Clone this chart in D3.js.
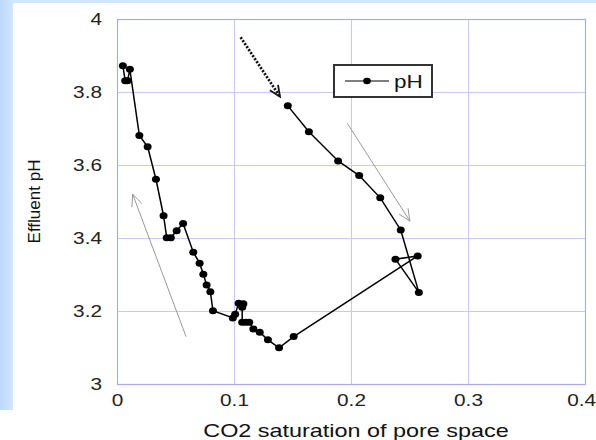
<!DOCTYPE html>
<html>
<head>
	<title>Effluent pH vs CO2 saturation</title>
</head>
<body>

<svg class="chart"></svg>

<style type="text/css">
	body {
		margin: 0;
		background: #fff;
	}

	.chart {
		display: block;
		width: 596px;
		height: 440px;
		font-family: "Liberation Sans", Arial, sans-serif;
	}

	.chart .grid line {
		stroke: #c9c9f6;
		stroke-width: 1px;
	}

	.chart .tick text {
		fill: #222;
		font-size: 16px;
	}

	.chart .title {
		fill: #111;
		font-size: 18px;
	}
</style>

<script src="https://d3js.org/d3.v7.min.js"></script>
<script type="text/javascript">
	// series, in the order it was measured (dotted arrow marks the start)
	var saturation = [0.146, 0.164, 0.189, 0.207, 0.225, 0.2425, 0.258, 0.238, 0.257,
		0.151, 0.1385, 0.129, 0.122, 0.1165, 0.113, 0.110, 0.107, 0.107, 0.108, 0.104,
		0.101, 0.099, 0.082, 0.0798, 0.0766, 0.0738, 0.0706, 0.0652, 0.0565, 0.051,
		0.046, 0.0425, 0.0398, 0.0333, 0.0262, 0.0191, 0.011, 0.009, 0.007, 0.005]
	var pH = [3.762, 3.691, 3.611, 3.571, 3.510, 3.422, 3.251, 3.342, 3.351,
		3.130, 3.099, 3.121, 3.142, 3.151, 3.169, 3.169, 3.169, 3.210, 3.220, 3.221,
		3.191, 3.181, 3.201, 3.253, 3.271, 3.301, 3.331, 3.361, 3.440, 3.420,
		3.401, 3.401, 3.461, 3.561, 3.650, 3.681, 3.862, 3.831, 3.831, 3.872]

	var xTicks = [0, 0.1, 0.2, 0.3, 0.4]
	var yTicks = [3, 3.2, 3.4, 3.6, 3.8, 4]

	var seriesName = 'pH'
	var xTitle = 'CO2 saturation of pore space'
	var yTitle = 'Effluent pH'

	// direction arrows [x1, y1, x2, y2] in data units
	var startArrow = [0.1057, 3.950, 0.1393, 3.787]
	var trendArrows = [
		[0.1969, 3.714, 0.2504, 3.446],
		[0.059, 3.130, 0.0134, 3.520]
	]

	var width = 596
	var height = 440
	var margin = {top: 19, right: 11, bottom: 56, left: 117}
	var stretch = 'scale(1.3,1)'   // the original picture is a bit wider than tall

	var svg = d3.select('.chart')
		.attr('viewBox', [0, 0, width, height])

	// light blue frame
	var grad = svg.append('defs').append('linearGradient')
		.attr('id', 'edge')
		.attr('x1', 0).attr('x2', 1).attr('y1', 0).attr('y2', 0)
	grad.append('stop').attr('offset', 0).attr('stop-color', '#bcd9fb')
	grad.append('stop').attr('offset', 1).attr('stop-color', '#d3e6fc')

	svg.append('rect')
		.attr('x', 0).attr('y', 0).attr('width', width).attr('height', 3)
		.attr('fill', '#d3e6fc')
	svg.append('rect')
		.attr('x', 0).attr('y', 0).attr('width', 13).attr('height', 410)
		.attr('fill', 'url(#edge)')

	var x = d3.scaleLinear()
		.domain([0, 0.4])
		.range([margin.left, width - margin.right])

	var y = d3.scaleLinear()
		.domain([3, 4])
		.range([height - margin.bottom, margin.top])

	// grid
	var grid = svg.append('g').attr('class', 'grid')
	grid.selectAll('.gx')
		.data(xTicks)
		.enter()
		.append('line')
		.attr('x1', function(d) { return x(d) + 0.5 })
		.attr('x2', function(d) { return x(d) + 0.5 })
		.attr('y1', y(3))
		.attr('y2', y(4))
	grid.selectAll('.gy')
		.data(yTicks)
		.enter()
		.append('line')
		.attr('y1', function(d) { return Math.round(y(d)) + 0.5 })
		.attr('y2', function(d) { return Math.round(y(d)) + 0.5 })
		.attr('x1', x(0))
		.attr('x2', x(0.4))

	svg.append('rect')
		.attr('x', x(0) + 0.5)
		.attr('y', y(4) + 0.5)
		.attr('width', x(0.4) - x(0))
		.attr('height', y(3) - y(4))
		.attr('fill', 'none')
		.attr('stroke', '#aaaaf0')
		.attr('stroke-width', 1.2)

	// axes (labels only)
	var xAxis = svg.append('g')
		.attr('transform', 'translate(0,' + (y(3) + 8) + ')')
		.call(d3.axisBottom(x).tickValues(xTicks).tickSize(0).tickFormat(d3.format('')))
	xAxis.select('.domain').remove()
	xAxis.selectAll('text').attr('dy', '0.71em').attr('transform', stretch)
	// last label sits against the right edge of the picture
	xAxis.selectAll('text').filter(function(d) { return d === 0.4 }).attr('x', -3)

	var yAxis = svg.append('g')
		.attr('transform', 'translate(' + (x(0) - 15) + ',0)')
		.call(d3.axisLeft(y).tickValues(yTicks).tickSize(0).tickFormat(d3.format('')))
	yAxis.select('.domain').remove()
	yAxis.selectAll('text').attr('x', 0).attr('transform', stretch)

	svg.append('g')
		.attr('transform', 'translate(' + ((x(0) + x(0.4)) / 2 + 5) + ',437)')
		.append('text')
		.attr('class', 'title')
		.attr('text-anchor', 'middle')
		.attr('transform', stretch)
		.text(xTitle)

	svg.append('text')
		.attr('class', 'title')
		.attr('transform', 'translate(40,' + ((y(3) + y(4)) / 2) + ') rotate(-90)')
		.attr('text-anchor', 'middle')
		.style('font-size', '17px')
		.text(yTitle)

	// arrows
	function arrowHead(a, size, color, w) {
		var x1 = x(a[0]), y1 = y(a[1]), x2 = x(a[2]), y2 = y(a[3])
		var ang = Math.atan2(y2 - y1, x2 - x1)
		var spread = 0.42
		var p1 = [x2 - size * Math.cos(ang - spread), y2 - size * Math.sin(ang - spread)]
		var p2 = [x2 - size * Math.cos(ang + spread), y2 - size * Math.sin(ang + spread)]
		svg.append('path')
			.attr('d', 'M' + p1 + 'L' + [x2, y2] + 'L' + p2)
			.attr('fill', 'none')
			.attr('stroke', color)
			.attr('stroke-width', w)
	}

	trendArrows.forEach(function(a) {
		svg.append('line')
			.attr('x1', x(a[0])).attr('y1', y(a[1]))
			.attr('x2', x(a[2])).attr('y2', y(a[3]))
			.attr('stroke', '#9a9a9a')
			.attr('stroke-width', 1)
		arrowHead(a, 13, '#9a9a9a', 1)
	})

	svg.append('line')
		.attr('x1', x(startArrow[0])).attr('y1', y(startArrow[1]))
		.attr('x2', x(startArrow[2])).attr('y2', y(startArrow[3]))
		.attr('stroke', '#111')
		.attr('stroke-width', 2.8)
		.attr('stroke-dasharray', '2,1.6')
	arrowHead(startArrow, 12, '#111', 1.8)

	// series
	var pts = saturation.map(function(d, i) { return [d, pH[i]] })

	var line = d3.line()
		.x(function(d) { return x(d[0]) })
		.y(function(d) { return y(d[1]) })

	svg.append('path')
		.datum(pts)
		.attr('d', line)
		.attr('fill', 'none')
		.attr('stroke', '#000')
		.attr('stroke-width', 1.5)

	svg.selectAll('.dot')
		.data(pts)
		.enter()
		.append('ellipse')
		.attr('class', 'dot')
		.attr('cx', function(d) { return x(d[0]) })
		.attr('cy', function(d) { return y(d[1]) })
		.attr('rx', 4)
		.attr('ry', 3.5)
		.attr('fill', '#000')

	// legend
	var legend = svg.append('g').attr('transform', 'translate(334,65)')
	legend.append('rect')
		.attr('width', 98).attr('height', 32)
		.attr('fill', '#fff')
		.attr('stroke', '#333')
		.attr('stroke-width', 2)
	legend.append('line')
		.attr('x1', 11).attr('x2', 55)
		.attr('y1', 16).attr('y2', 16)
		.attr('stroke', '#000').attr('stroke-width', 1.2)
	legend.append('ellipse')
		.attr('cx', 33).attr('cy', 16).attr('rx', 3.8).attr('ry', 3.3)
		.attr('fill', '#000')
	legend.append('g')
		.attr('transform', 'translate(60,23)')
		.append('text')
		.attr('font-size', 18)
		.attr('fill', '#111')
		.attr('transform', 'scale(1.25,1)')
		.text(seriesName)
</script>
</body>
</html>
